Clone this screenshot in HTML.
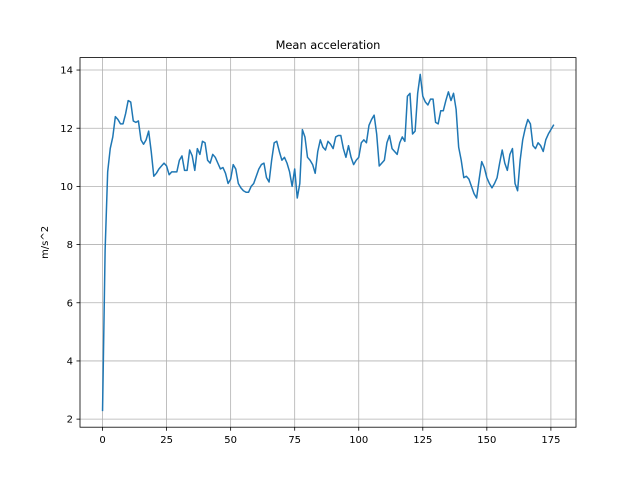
<!DOCTYPE html>
<html><head><meta charset="utf-8">
<style>
html,body{margin:0;padding:0;background:#fff;}
svg{display:block;font-family:"DejaVu Sans","Liberation Sans",sans-serif;}
</style></head>
<body>
<svg id="chart" width="640" height="480" viewBox="0 0 640 480">
<rect x="0" y="0" width="640" height="480" fill="#fff"/>
<g id="grid"></g>
<g id="series"></g>
<rect x="80" y="57.6" width="496" height="369.6" fill="none" stroke="#000" stroke-width="0.8"/>
<g id="xticks"></g>
<g id="yticks"></g>
<text x="328" y="49" text-anchor="middle" font-size="11.4">Mean acceleration</text>
<text transform="translate(48,242.4) rotate(-90)" text-anchor="middle" font-size="10">m/s^2</text>
</svg>
<script>
const xTicks = [0, 25, 50, 75, 100, 125, 150, 175];
const yTicks = [2, 4, 6, 8, 10, 12, 14];
const accel = [2.3,7.8,10.5,11.3,11.7,12.4,12.3,12.15,12.15,12.5,12.95,12.9,12.25,12.2,12.25,11.6,11.45,11.6,11.9,11.2,
10.35,10.45,10.6,10.7,10.8,10.7,10.4,10.5,10.5,10.5,10.9,11.05,10.55,10.55,11.25,11.05,10.55,11.3,11.1,11.55,
11.5,10.9,10.8,11.1,11.0,10.8,10.6,10.65,10.45,10.1,10.25,10.75,10.6,10.1,9.95,9.85,9.8,9.8,10.0,10.1,
10.35,10.6,10.75,10.8,10.3,10.15,10.9,11.5,11.55,11.2,10.9,11.0,10.8,10.5,10.0,10.6,9.6,10.1,11.95,11.7,
11.0,10.9,10.75,10.45,11.2,11.6,11.35,11.25,11.55,11.45,11.3,11.7,11.75,11.75,11.3,11.0,11.4,11.0,10.75,10.9,
11.0,11.5,11.6,11.5,12.1,12.3,12.45,11.8,10.7,10.8,10.9,11.5,11.75,11.3,11.2,11.1,11.5,11.7,11.55,13.1,
13.2,11.8,11.9,13.2,13.85,13.1,12.9,12.8,13.0,13.0,12.2,12.15,12.6,12.6,12.95,13.25,12.95,13.2,12.65,11.35,
10.9,10.3,10.35,10.25,10.0,9.75,9.6,10.25,10.85,10.65,10.3,10.1,9.95,10.1,10.3,10.8,11.25,10.8,10.55,11.1,
11.3,10.1,9.85,10.9,11.6,12.0,12.3,12.15,11.4,11.3,11.5,11.4,11.2,11.6,11.8,11.95,12.1];

const L=80,R=576,T=57.6,B=427.2;
const n=accel.length;
const xmin=-0.05*(n-1), xmax=(n-1)*1.05;
const dmin=Math.min(...accel), dmax=Math.max(...accel), pad=(dmax-dmin)*0.05;
const ymin=dmin-pad, ymax=dmax+pad;
const sx=v=>L+(v-xmin)/(xmax-xmin)*(R-L);
const sy=v=>B-(v-ymin)/(ymax-ymin)*(B-T);
const NS="http://www.w3.org/2000/svg";
const mk=(tag,attrs,parent)=>{const e=document.createElementNS(NS,tag);for(const k in attrs)e.setAttribute(k,attrs[k]);parent.appendChild(e);return e;};
const grid=document.getElementById('grid'),xg=document.getElementById('xticks'),yg=document.getElementById('yticks'),sg=document.getElementById('series');
xTicks.forEach(t=>{
  const x=sx(t);
  const g=mk('line',{x1:x,x2:x,y1:T,y2:B,stroke:'#b0b0b0','stroke-width':0.8},grid);
  
  
  const tk=mk('line',{x1:x,x2:x,y1:B,y2:B+3.5,stroke:'#000','stroke-width':0.8},xg);
  
  
  const tx=mk('text',{x:x,y:B+16,'text-anchor':'middle','font-size':10},xg);
  tx.textContent=t;
  
  
});
yTicks.forEach(t=>{
  const y=sy(t);
  const g=mk('line',{x1:L,x2:R,y1:y,y2:y,stroke:'#b0b0b0','stroke-width':0.8},grid);
  
  
  const tk=mk('line',{x1:L-3.5,x2:L,y1:y,y2:y,stroke:'#000','stroke-width':0.8},yg);
  
  
  const tx=mk('text',{x:L-7,y:y+3.6,'text-anchor':'end','font-size':10},yg);
  tx.textContent=t;
  
  
});
const pts=accel.map((v,i)=>sx(i).toFixed(2)+','+sy(v).toFixed(2)).join(' ');
const line=mk('polyline',{points:pts,fill:'none',stroke:'#1f77b4','stroke-width':1.5,'stroke-linejoin':'round','stroke-linecap':'square'},sg);


</script>
</body></html>
